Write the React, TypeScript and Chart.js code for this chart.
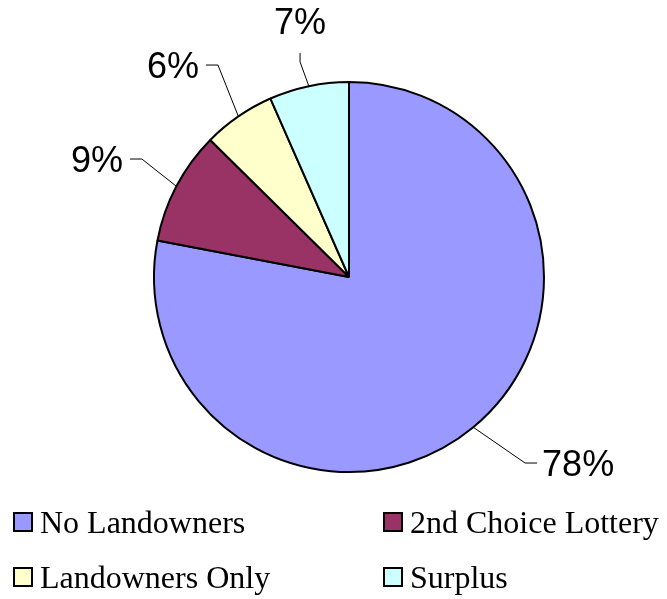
import React, { useEffect, useRef } from "react";
import { Chart, registerables } from "chart.js";

Chart.register(...registerables);

const categories = ["No Landowners", "2nd Choice Lottery", "Landowners Only", "Surplus"];
const values = [78.0, 9.4, 6.0, 6.6];
const colors = ["#9999FF", "#993366", "#FFFFCC", "#CCFFFF"];

// leader line layout: elbow point relative to pie centre (in radius units), tail direction
const leaders = [
  { ex: 0.903, ey: 0.954, dir: "right" },
  { ex: -1.062, ey: -0.605, dir: "left" },
  { ex: -0.672, ey: -1.087, dir: "left" },
  { ex: -0.251, ey: -1.103, dir: "up" },
];

const labelPlugin = {
  id: "pieLabels",
  afterDatasetsDraw(chart: any) {
    const meta = chart.getDatasetMeta(0);
    const ctx = chart.ctx as CanvasRenderingContext2D;
    const data = chart.data.datasets[0].data as number[];
    const total = data.reduce((a, b) => a + b, 0);
    ctx.save();
    ctx.font = '36px "Liberation Sans", Arial, sans-serif';
    ctx.fillStyle = "#000";
    ctx.strokeStyle = "#000";
    ctx.lineWidth = 1;
    meta.data.forEach((arc: any, i: number) => {
      const { x, y, startAngle, endAngle, outerRadius } = arc.getProps(
        ["x", "y", "startAngle", "endAngle", "outerRadius"],
        true
      );
      const mid = (startAngle + endAngle) / 2;
      const sx = x + Math.cos(mid) * outerRadius;
      const sy = y + Math.sin(mid) * outerRadius;
      const L = leaders[i];
      const ex = x + L.ex * outerRadius;
      const ey = y + L.ey * outerRadius;
      let tx = ex, ty = ey;
      const tail = 12;
      if (L.dir === "right") tx = ex + tail;
      else if (L.dir === "left") tx = ex - tail;
      else ty = ey - 9;
      ctx.beginPath();
      ctx.moveTo(sx, sy);
      ctx.lineTo(ex, ey);
      ctx.lineTo(tx, ty);
      ctx.stroke();
      const text = Math.round((data[i] / total) * 100) + "%";
      const cap = 13;
      ctx.textBaseline = "alphabetic";
      if (L.dir === "right") {
        ctx.textAlign = "left";
        ctx.fillText(text, tx + 5, ty + cap);
      } else if (L.dir === "left") {
        ctx.textAlign = "right";
        ctx.fillText(text, tx - 7, ty + cap);
      } else {
        ctx.textAlign = "center";
        ctx.fillText(text, tx, ty - 19);
      }
    });
    ctx.restore();
  },
};

const legendPlugin = {
  id: "gridLegend",
  afterDraw(chart: any) {
    const ctx = chart.ctx as CanvasRenderingContext2D;
    const labels = chart.data.labels as string[];
    const bg = chart.data.datasets[0].backgroundColor as string[];
    ctx.save();
    ctx.font = '32px "Liberation Serif", "Times New Roman", serif';
    ctx.textAlign = "left";
    ctx.textBaseline = "alphabetic";
    labels.forEach((lab, i) => {
      const col = i % 2;
      const row = Math.floor(i / 2);
      const bx = col === 0 ? 13 : 383;
      const by = 512 + row * 55;
      ctx.fillStyle = bg[i];
      ctx.fillRect(bx + 1, by + 1, 18, 18);
      ctx.strokeStyle = "#000";
      ctx.lineWidth = 2;
      ctx.strokeRect(bx + 1, by + 1, 18, 18);
      ctx.fillStyle = "#000";
      ctx.fillText(lab, bx + 27, by + 21);
    });
    ctx.restore();
  },
};

export default function App() {
  const ref = useRef<HTMLCanvasElement>(null);
  useEffect(() => {
    if (!ref.current) return;
    const chart = new Chart(ref.current, {
      type: "pie",
      data: {
        labels: categories,
        datasets: [
          {
            data: values,
            backgroundColor: colors,
            borderColor: "#000",
            borderWidth: 2,
            hoverOffset: 0,
            offset: 0,
          },
        ],
      },
      options: {
        responsive: false,
        animation: false,
        layout: { padding: { left: 153, right: 122, top: 81, bottom: 126 } },
        plugins: {
          legend: { display: false },
          tooltip: { enabled: false },
        },
        events: [],
      },
      plugins: [labelPlugin, legendPlugin],
    });
    return () => chart.destroy();
  }, []);
  return (
    <div style={{ position: "absolute", left: 0, top: 0, width: 667, height: 599, background: "#fff" }}>
      <canvas ref={ref} width={667} height={599} />
    </div>
  );
}
